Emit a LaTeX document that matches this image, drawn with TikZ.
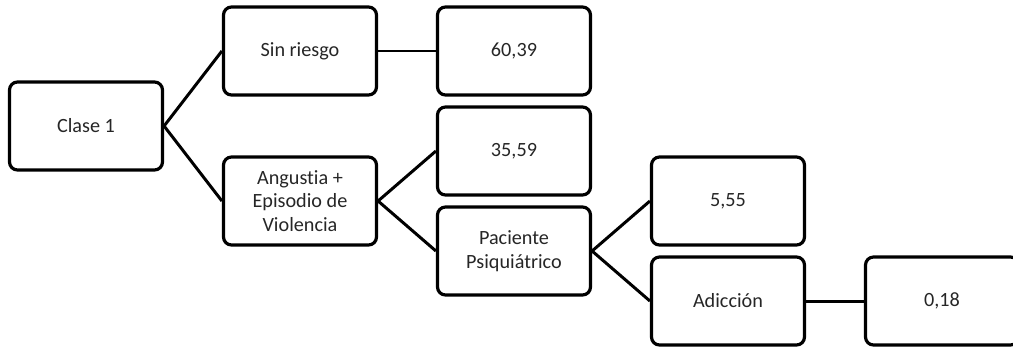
\documentclass[tikz,border=0pt]{standalone}
\usepackage{fontspec}
\setmainfont{Carlito}[Ligatures=NoCommon]
\usepackage{tikz}
\usetikzlibrary{positioning}

\begin{document}
\begin{tikzpicture}[
            box/.style = {draw, rounded corners = 0.16cm, line width = 1.8pt,
                minimum width = 3.06cm, minimum height = 1.76cm,
                align = center, text = black!85, font = \fontsize{11.5}{13.5}\selectfont},
            link/.style = {line width = 1.7pt},
            node distance = 1.5cm and 4.28cm,
            on grid
        ]
        \clip (0,0) rectangle (20.26,-6.92);
        \node[box] (C1) at (1.72,-2.52) {Clase 1};
        \node[box, above right=1.5cm and 4.28cm of C1] (SR) {Sin riesgo};
        \node[box, below right=1.5cm and 4.28cm of C1] (AE) {Angustia +\\Episodio de\\Violencia};
        \node[box, right=4.28cm of SR] (V1) {60,39};
        \node[box, above right=1cm and 4.28cm of AE] (V2) {35,59};
        \node[box, below right=1cm and 4.28cm of AE] (PP) {Paciente\\Psiquiátrico};
        \node[box, above right=1cm and 4.28cm of PP] (V3) {5,55};
        \node[box, below right=1cm and 4.28cm of PP] (AD) {Adicción};
        \node[box, right=4.28cm of AD] (V4) {0,18};

        \draw[link] (C1.east) -- (SR.west);
        \draw[link] (C1.east) -- (AE.west);
        \draw[link] (SR.east) -- (V1.west);
        \draw[link] (AE.east) -- (V2.west);
        \draw[link] (AE.east) -- (PP.west);
        \draw[link] (PP.east) -- (V3.west);
        \draw[link] (PP.east) -- (AD.west);
        \draw[link] (AD.east) -- (V4.west);
    \end{tikzpicture}
\end{document}
